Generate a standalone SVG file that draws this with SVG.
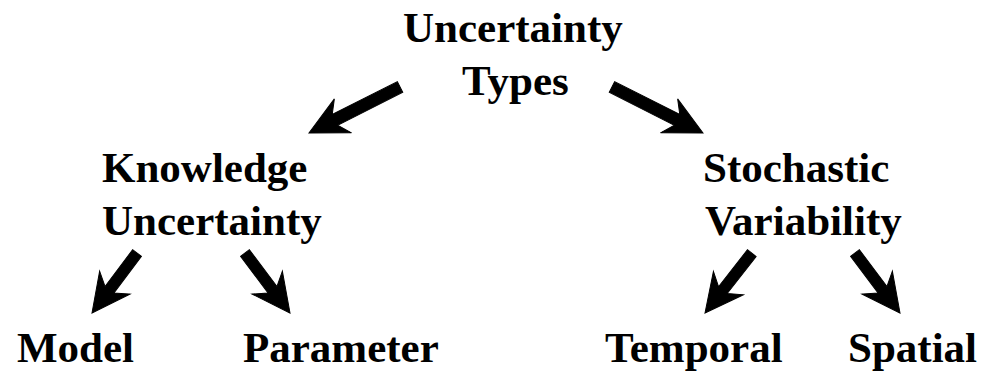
<svg xmlns="http://www.w3.org/2000/svg" width="989" height="376" viewBox="0 0 989 376">
<style>
.t{font-family:"Liberation Serif","Times New Roman",serif;font-weight:bold;font-size:43px;fill:#000}
.a{fill:#000;stroke:#000;stroke-width:1;stroke-linejoin:miter}
</style>
<rect width="989" height="376" fill="#fff"/>
<g id="connectors">
<path class="a" transform="translate(309,133) rotate(153.2)" d="M0,0 L-38,-19 L-29,-6 L-102,-6 L-102,6 L-29,6 L-38,19 Z"/>
<path class="a" transform="translate(703,133) rotate(26.8)" d="M0,0 L-38,-19 L-29,-6 L-102,-6 L-102,6 L-29,6 L-38,19 Z"/>
<path class="a" transform="translate(92,313) rotate(126.9)" d="M0,0 L-38,-19 L-29,-5.5 L-75,-5.5 L-75,5.5 L-29,5.5 L-38,19 Z"/>
<path class="a" transform="translate(290,313) rotate(53.1)" d="M0,0 L-38,-19 L-29,-5.5 L-75,-5.5 L-75,5.5 L-29,5.5 L-38,19 Z"/>
<path class="a" transform="translate(705,313) rotate(128)" d="M0,0 L-38,-19 L-29,-5.5 L-76,-5.5 L-76,5.5 L-29,5.5 L-38,19 Z"/>
<path class="a" transform="translate(900,313) rotate(53.1)" d="M0,0 L-38,-19 L-29,-5.5 L-75,-5.5 L-75,5.5 L-29,5.5 L-38,19 Z"/>
</g>
<g id="root"><text class="t" x="403" y="42">Uncertainty</text><text class="t" x="462" y="95">Types</text></g>
<g id="knowledge"><text class="t" x="102" y="182">Knowledge</text><text class="t" x="102" y="235">Uncertainty</text></g>
<g id="stochastic"><text class="t" x="703" y="182">Stochastic</text><text class="t" x="705" y="235">Variability</text></g>
<g id="model"><text class="t" x="17" y="362">Model</text></g>
<g id="parameter"><text class="t" x="243" y="362">Parameter</text></g>
<g id="temporal"><text class="t" x="605" y="362">Temporal</text></g>
<g id="spatial"><text class="t" x="848" y="362">Spatial</text></g>
</svg>
